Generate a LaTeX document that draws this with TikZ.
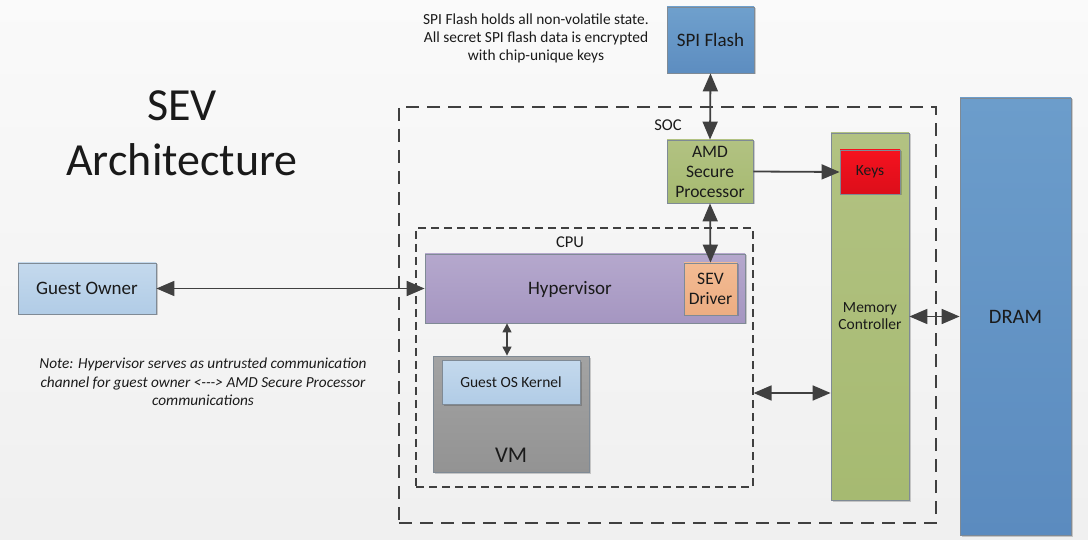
\documentclass[tikz,border=0pt]{standalone}
\usepackage{fontspec}
\setmainfont{Carlito}
\usetikzlibrary{arrows.meta,shadows}
\definecolor{txt}{HTML}{1A1A1A}
\definecolor{edge}{HTML}{404040}
\definecolor{bord}{HTML}{7F8A95}
\definecolor{spiT}{HTML}{6FA0CD}\definecolor{spiB}{HTML}{5D8DC0}
\definecolor{drT}{HTML}{6C9DCB}\definecolor{drB}{HTML}{5B8BBF}
\definecolor{grT}{HTML}{B2C282}\definecolor{grB}{HTML}{A6BA71}
\definecolor{rdT}{HTML}{F5121F}\definecolor{rdB}{HTML}{DC0E1A}
\definecolor{puT}{HTML}{B5A8CD}\definecolor{puB}{HTML}{A596C1}
\definecolor{orT}{HTML}{F3BB93}\definecolor{orB}{HTML}{ECAD82}
\definecolor{gyT}{HTML}{A3A3A3}\definecolor{gyB}{HTML}{939393}
\definecolor{lbT}{HTML}{C4D9ED}\definecolor{lbB}{HTML}{B1CCE6}
\begin{document}
\begin{tikzpicture}[x=1pt,y=-1pt,
  box/.style={draw=bord, line width=0.8pt, inner sep=2pt, align=center, text=txt,
     drop shadow={shadow xshift=1.5pt, shadow yshift=-1.5pt, opacity=0.18, fill=black}},
  tip/.tip={Triangle[length=18pt,width=15pt]},
  arr/.style={draw=edge, line width=1.8pt, tip-tip},
  arrs/.style={draw=edge, line width=1.2pt, {Triangle[length=9pt,width=9pt]}-{Triangle[length=9pt,width=9pt]}},
  soc/.style={draw=edge, line width=1.6pt, dash pattern=on 13pt off 8pt},
  cpuf/.style={draw=edge, line width=1.2pt, dash pattern=on 8pt off 5pt},
  lbl/.style={text=txt, inner sep=0pt, align=center}
]
\useasboundingbox (0,0) rectangle (1088,540);
\shade[top color=white!98!black, bottom color=white!94!black] (0,0) rectangle (1088,540);

% containers
\node[soc, minimum width=537pt, minimum height=416pt, inner sep=0pt] (soc) at (667.5,315) {};
\node[cpuf, minimum width=337pt, minimum height=259pt, inner sep=0pt] (cpu) at (584.5,357.5) {};
\node[lbl, font=\fontsize{16.5}{18}\selectfont] (soclbl) at (668,125) {SOC};
\node[lbl, font=\fontsize{16.5}{18}\selectfont] (cpulbl) at (570,242) {CPU};

% boxes
\node[box, top color=spiT, bottom color=spiB, minimum width=87pt, minimum height=66pt,
  font=\fontsize{19}{20}\selectfont] (spi) at (710.5,40) {SPI Flash};
\node[box, top color=drT, bottom color=drB, minimum width=111pt, minimum height=437pt,
  font=\fontsize{20.5}{22}\selectfont] (dram) at (1015.5,316.5) {DRAM};
\node[box, top color=grT, bottom color=grB, minimum width=78pt, minimum height=367pt,
  font=\fontsize{15.5}{18}\selectfont] (mc) at (870,316.5) {Memory\\[-1pt]Controller};
\node[box, top color=rdT, bottom color=rdB, minimum width=60pt, minimum height=44pt,
  font=\fontsize{15.5}{18}\selectfont] (keys) at (870,172) {Keys};
\node[box, top color=grT, bottom color=grB, minimum width=86pt, minimum height=63pt,
  font=\fontsize{17.5}{20}\selectfont] (amd) at (710,171.5) {AMD\\Secure\\Processor};
\node[box, top color=puT, bottom color=puB, minimum width=320pt, minimum height=69pt] (hyp) at (585,288.5) {};
\node[lbl, font=\fontsize{19}{20}\selectfont] (hyplbl) at (570,289) {Hypervisor};
\node[box, top color=orT, bottom color=orB, minimum width=53pt, minimum height=52pt,
  font=\fontsize{17.5}{20}\selectfont] (sev) at (710.5,289) {SEV\\Driver};
\node[box, top color=gyT, bottom color=gyB, minimum width=156pt, minimum height=116pt] (vm) at (511,414) {};
\node[lbl, font=\fontsize{22.5}{24}\selectfont] (vmlbl) at (511,455) {VM};
\node[box, top color=lbT, bottom color=lbB, minimum width=138pt, minimum height=44pt,
  font=\fontsize{15.5}{18}\selectfont] (gos) at (511,382) {Guest OS Kernel};
\node[box, top color=lbT, bottom color=lbB, minimum width=138pt, minimum height=51pt,
  font=\fontsize{19}{20}\selectfont] (go) at (87,288.5) {Guest Owner};

% texts
\node[lbl, font=\fontsize{46}{55}\selectfont] (title) at (182,133) {SEV\\Architecture};
\node[lbl, font=\fontsize{15.4}{18}\selectfont] (spinote) at (536,38) {SPI Flash holds all non-volatile state.\\All secret SPI flash data is encrypted\\with chip-unique keys};
\node[lbl, font=\itshape\fontsize{15.3}{18.5}\selectfont] (note) at (203,382) {Note: Hypervisor serves as untrusted communication\\channel for guest owner <{-}{-}{-}> AMD Secure Processor\\communications};

% connectors
\draw[arr] (spi.south) -- (amd.north);
\draw[arr] (amd.south) -- (sev.north);
\draw[draw=edge, line width=1.8pt, -tip] (amd.east) -- (keys.west);
\draw[arr] (go.east) -- (hyp.west);
\draw[arrs] (hyp.south -| 507,0) -- (vm.north -| 507,0);
\draw[arr] (cpu.east |- 0,393) -- (mc.west |- 0,393);
\draw[arr] (mc.east) -- (dram.west);
\end{tikzpicture}
\end{document}
